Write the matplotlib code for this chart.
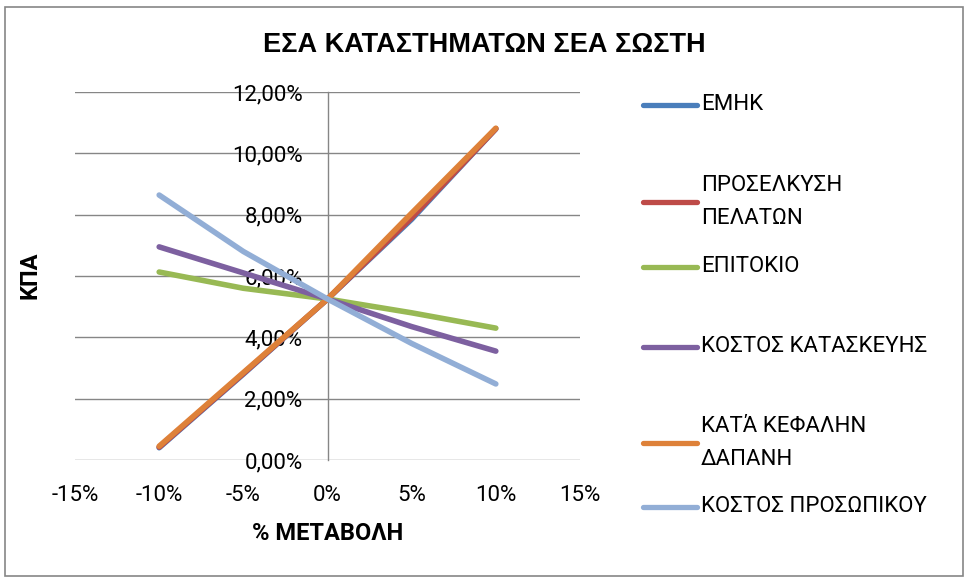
import matplotlib
matplotlib.use("Agg")
import matplotlib.pyplot as plt
from matplotlib.lines import Line2D
from matplotlib.patches import Rectangle
from matplotlib.ticker import FuncFormatter, MultipleLocator

plt.rcParams['font.family'] = ['Roboto', 'DejaVu Sans']

# data (percent)
change = [-10, -5, 0, 5, 10]
emhk = [0.40, 2.80, 5.25, 7.85, 10.80]
proselkysi = [0.42, 2.82, 5.25, 7.90, 10.80]
epitokio = [6.13, 5.60, 5.25, 4.80, 4.30]
kostos_kataskevis = [6.95, 6.10, 5.25, 4.35, 3.55]
kata_kefalin = [0.45, 2.85, 5.25, 8.05, 10.82]
kostos_prosopikou = [8.64, 6.80, 5.25, 3.80, 2.48]

labels = ["ΕΜΗΚ", "ΠΡΟΣΕΛΚΥΣΗ\nΠΕΛΑΤΩΝ", "ΕΠΙΤΟΚΙΟ", "ΚΟΣΤΟΣ ΚΑΤΑΣΚΕΥΗΣ",
          "ΚΑΤΆ ΚΕΦΑΛΗΝ\nΔΑΠΑΝΗ", "ΚΟΣΤΟΣ ΠΡΟΣΩΠΙΚΟΥ"]
series = [emhk, proselkysi, epitokio, kostos_kataskevis, kata_kefalin, kostos_prosopikou]
colors = ['#4A7EBB', '#BE4B48', '#98B954', '#7D60A0', '#DE8139', '#92AED6']

W, H = 968, 580
fig = plt.figure(figsize=(W / 100, H / 100), dpi=100)
fig.patch.set_facecolor('white')

# outer chart border
fig.add_artist(Rectangle((5 / W, 4 / H), 958 / W, 569 / H, transform=fig.transFigure,
                         facecolor='none', edgecolor='#868686', linewidth=1.2))

ax = fig.add_axes([75 / W, 1 - 460 / H, 505 / W, 368 / H])
ax.set_xlim(-15, 15)
ax.set_ylim(0, 12)

for ys, c in zip(series, colors):
    ax.plot(change, ys, color=c, linewidth=4.0, solid_capstyle='round',
            solid_joinstyle='round', zorder=3)

ax.yaxis.set_major_locator(MultipleLocator(2))
ax.xaxis.set_major_locator(MultipleLocator(5))
ax.grid(axis='y', color='#868686', linewidth=1.0, zorder=0)
ax.set_axisbelow(True)

for s in ['top', 'right', 'bottom']:
    ax.spines[s].set_visible(False)
ax.spines['left'].set_position(('data', 0))
ax.spines['left'].set_color('#868686')
ax.spines['left'].set_linewidth(1.0)

ax.yaxis.set_major_formatter(FuncFormatter(lambda v, p: f"{v:.2f}".replace('.', ',') + "%"))
ax.xaxis.set_major_formatter(FuncFormatter(lambda v, p: f"{int(round(v))}%"))
ax.tick_params(axis='y', length=0, pad=18, labelsize=16)
ax.tick_params(axis='x', length=0, pad=18, labelsize=16)

fig.text(484 / W, 1 - 45 / H, "ΕΣΑ ΚΑΤΑΣΤΗΜΑΤΩΝ ΣΕΑ ΣΩΣΤΗ", ha='center', va='center',
         fontsize=19.5, fontweight='bold', family=['Liberation Sans'])
fig.text(328 / W, 1 - 534 / H, "% ΜΕΤΑΒΟΛΗ", ha='center', va='center',
         fontsize=17, fontweight='bold')
fig.text(30 / W, 1 - 275 / H, "ΚΠΑ", ha='center', va='center', rotation=90,
         fontsize=17, fontweight='bold')

# legend, laid out by hand
legend_y = [105, 202, 267, 347, 443, 507]
for lab, c, yy in zip(labels, colors, legend_y):
    fig.add_artist(Line2D([643 / W, 697 / W], [1 - yy / H, 1 - yy / H], transform=fig.transFigure,
                          color=c, linewidth=3.8, solid_capstyle='round'))
    fig.text(701 / W, 1 - yy / H, lab, ha='left', va='center', fontsize=16,
             linespacing=1.7)

fig.savefig("out.png", dpi=100)
